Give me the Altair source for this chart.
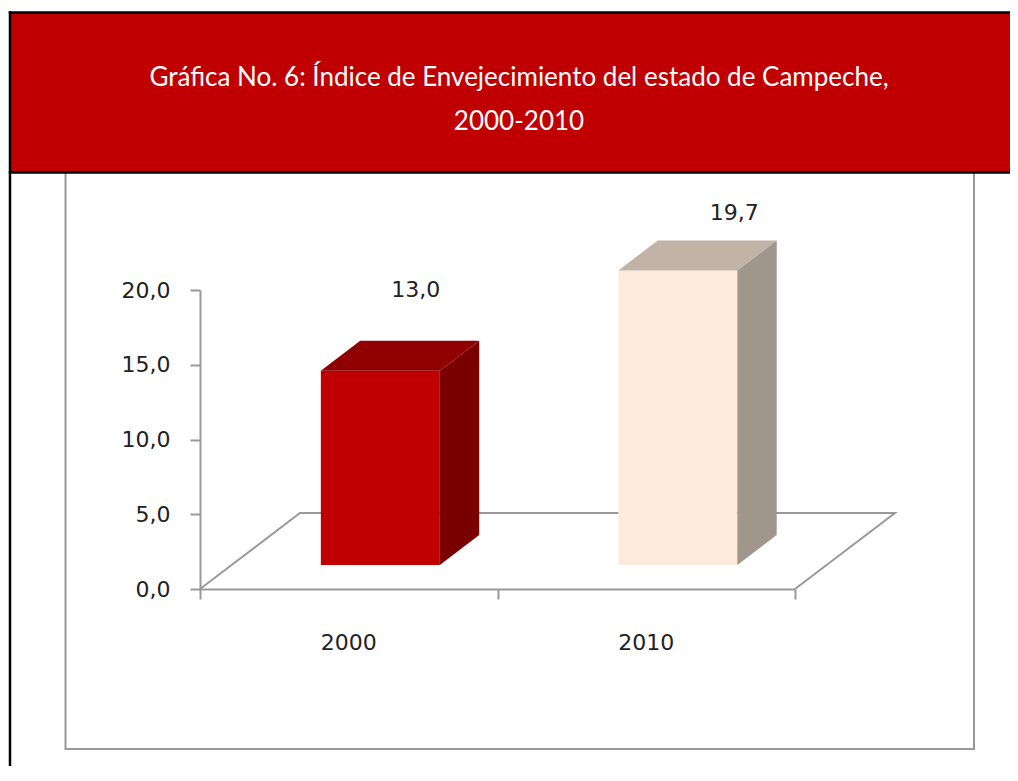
import altair as alt
import pandas as pd

# ---- data ----
years = ["2000", "2010"]
values = [13.0, 19.7]
value_labels = ["13,0", "19,7"]
title_lines = ["Gráfica No. 6: Índice de Envejecimiento del estado de Campeche,", "2000-2010"]
y_ticks = [0, 5, 10, 15, 20]

# ---- style ----
front_colors = ["#C00000", "#FDEADA"]
top_colors = ["#910000", "#C1B3A6"]
side_colors = ["#7A0000", "#A1968C"]
label_dx = [-4, 17]
label_dy = [-51, -28]
AXIS_GRAY = "#999999"
FONT = "DejaVu Sans"
FS = 22

# 3-D projection (depth offsets in data units)
DX = 0.336
DY = 5.08
D0, D1 = 0.316, 0.71
HALF = 0.2

W, H = 1002, 758
xs = alt.Scale(domain=[0, 2], range=[192, 787], nice=False, zero=False)
ys = alt.Scale(domain=[0, 20], range=[581, 282], nice=False, zero=False)

one = pd.DataFrame({"k": [0]})

# ---- frames / decoration ----
gray_box = alt.Chart(one).mark_rect(fill=None, stroke=AXIS_GRAY, strokeWidth=2).encode(
    x=alt.value(57.5), x2=alt.value(966), y=alt.value(164), y2=alt.value(741))
header = alt.Chart(one).mark_rect(fill="#C00000").encode(
    x=alt.value(2), x2=alt.value(W), y=alt.value(4.5), y2=alt.value(164.5))
top_line = alt.Chart(one).mark_rule(color="black", strokeWidth=2.5).encode(
    x=alt.value(0.75), x2=alt.value(W), y=alt.value(4.5))
bottom_line = alt.Chart(one).mark_rule(color="black", strokeWidth=2.5).encode(
    x=alt.value(0.75), x2=alt.value(W), y=alt.value(164.5))
left_line = alt.Chart(one).mark_rule(color="black", strokeWidth=2.5).encode(
    x=alt.value(2), y=alt.value(3.25), y2=alt.value(H))
title1 = alt.Chart(pd.DataFrame({"t": [title_lines[0]]})).mark_text(
    font="Lato", fontSize=26, color="white", align="center", baseline="middle").encode(
    x=alt.value(511), y=alt.value(70), text="t:N")
title2 = alt.Chart(pd.DataFrame({"t": [title_lines[1]]})).mark_text(
    font="Lato", fontSize=26, color="white", align="center", baseline="middle").encode(
    x=alt.value(511), y=alt.value(114), text="t:N")

# ---- floor outline with axes ----
floor = pd.DataFrame({
    "x": [0, DX, 2 + DX, 2],
    "y": [0, DY, DY, 0],
    "o": [0, 1, 2, 3],
})
floor_line = alt.Chart(floor).mark_line(color=AXIS_GRAY, strokeWidth=2).encode(
    x=alt.X("x:Q", scale=xs, axis=alt.Axis(
        values=[0, 1, 2], labels=False, title=None, grid=False, offset=-(H - 581),
        domainColor=AXIS_GRAY, domainWidth=2, tickColor=AXIS_GRAY, tickWidth=2, tickSize=10)),
    y=alt.Y("y:Q", scale=ys, axis=alt.Axis(
        values=y_ticks, title=None, grid=False, offset=-192,
        labelExpr="replace(format(datum.value, '.1f'), '.', ',')",
        labelFont=FONT, labelFontSize=FS, labelColor="#222222", labelPadding=20,
        domainColor=AXIS_GRAY, domainWidth=2, tickColor=AXIS_GRAY, tickWidth=2, tickSize=10)),
    order="o:Q",
)

# ---- 3-D bars built from values ----
front_rows, top_rows, side_rows = [], [], []
for i, (yr, v) in enumerate(zip(years, values)):
    c = i + 0.5
    x0, x1 = c - HALF, c + HALF
    fy0, by0 = D0 * DY, D1 * DY
    front_rows.append({"year": yr, "x": x0 + D0 * DX, "x2": x1 + D0 * DX,
                       "y": fy0, "y2": v + fy0, "fill": front_colors[i]})
    A = x0 + D0 * DX
    B = x1 + D0 * DX
    Dx = x0 + D1 * DX
    C = x1 + D1 * DX
    for px, t, b in [(A, v + fy0, v + fy0), (Dx, v + by0, v + fy0),
                     (B, v + by0, v + fy0), (C, v + by0, v + by0)]:
        top_rows.append({"year": yr, "x": px, "y": t, "y2": b, "fill": top_colors[i]})
    for px, t, b in [(B, v + fy0, fy0), (C, v + by0, by0)]:
        side_rows.append({"year": yr, "x": px, "y": t, "y2": b, "fill": side_colors[i]})

front = alt.Chart(pd.DataFrame(front_rows)).mark_rect().encode(
    x=alt.X("x:Q", scale=xs), x2="x2:Q",
    y=alt.Y("y:Q", scale=ys), y2="y2:Q",
    fill=alt.Fill("fill:N", scale=None))
top = alt.Chart(pd.DataFrame(top_rows)).mark_area(opacity=1).encode(
    x=alt.X("x:Q", scale=xs),
    y=alt.Y("y:Q", scale=ys, stack=False), y2="y2:Q",
    fill=alt.Fill("fill:N", scale=None), detail="year:N")
side = alt.Chart(pd.DataFrame(side_rows)).mark_area(opacity=1).encode(
    x=alt.X("x:Q", scale=xs),
    y=alt.Y("y:Q", scale=ys, stack=False), y2="y2:Q",
    fill=alt.Fill("fill:N", scale=None), detail="year:N")

# ---- category labels ----
cat = alt.Chart(pd.DataFrame({"x": [i + 0.5 for i in range(len(years))], "year": years})).mark_text(
    font=FONT, fontSize=FS, color="#222222", align="center", baseline="middle").encode(
    x=alt.X("x:Q", scale=xs), y=alt.value(635), text="year:N")

# ---- value labels ----
val_layers = []
for i, (v, lab) in enumerate(zip(values, value_labels)):
    d = pd.DataFrame({"x": [i + 0.5 + D1 * DX], "y": [v + D1 * DY], "lab": [lab]})
    val_layers.append(alt.Chart(d).mark_text(
        font=FONT, fontSize=FS, color="#222222", align="center", baseline="middle",
        dx=label_dx[i], dy=label_dy[i]).encode(
        x=alt.X("x:Q", scale=xs), y=alt.Y("y:Q", scale=ys), text="lab:N"))

chart = alt.layer(
    gray_box, header, top_line, bottom_line, left_line, title1, title2,
    floor_line, front, top, side, cat, *val_layers
).properties(
    width=W, height=H, autosize=alt.AutoSizeParams(type="none"), padding=0,
    background="white",
).configure_view(stroke=None)

chart.save("out.html", embed_options={"renderer": "svg", "actions": False})
